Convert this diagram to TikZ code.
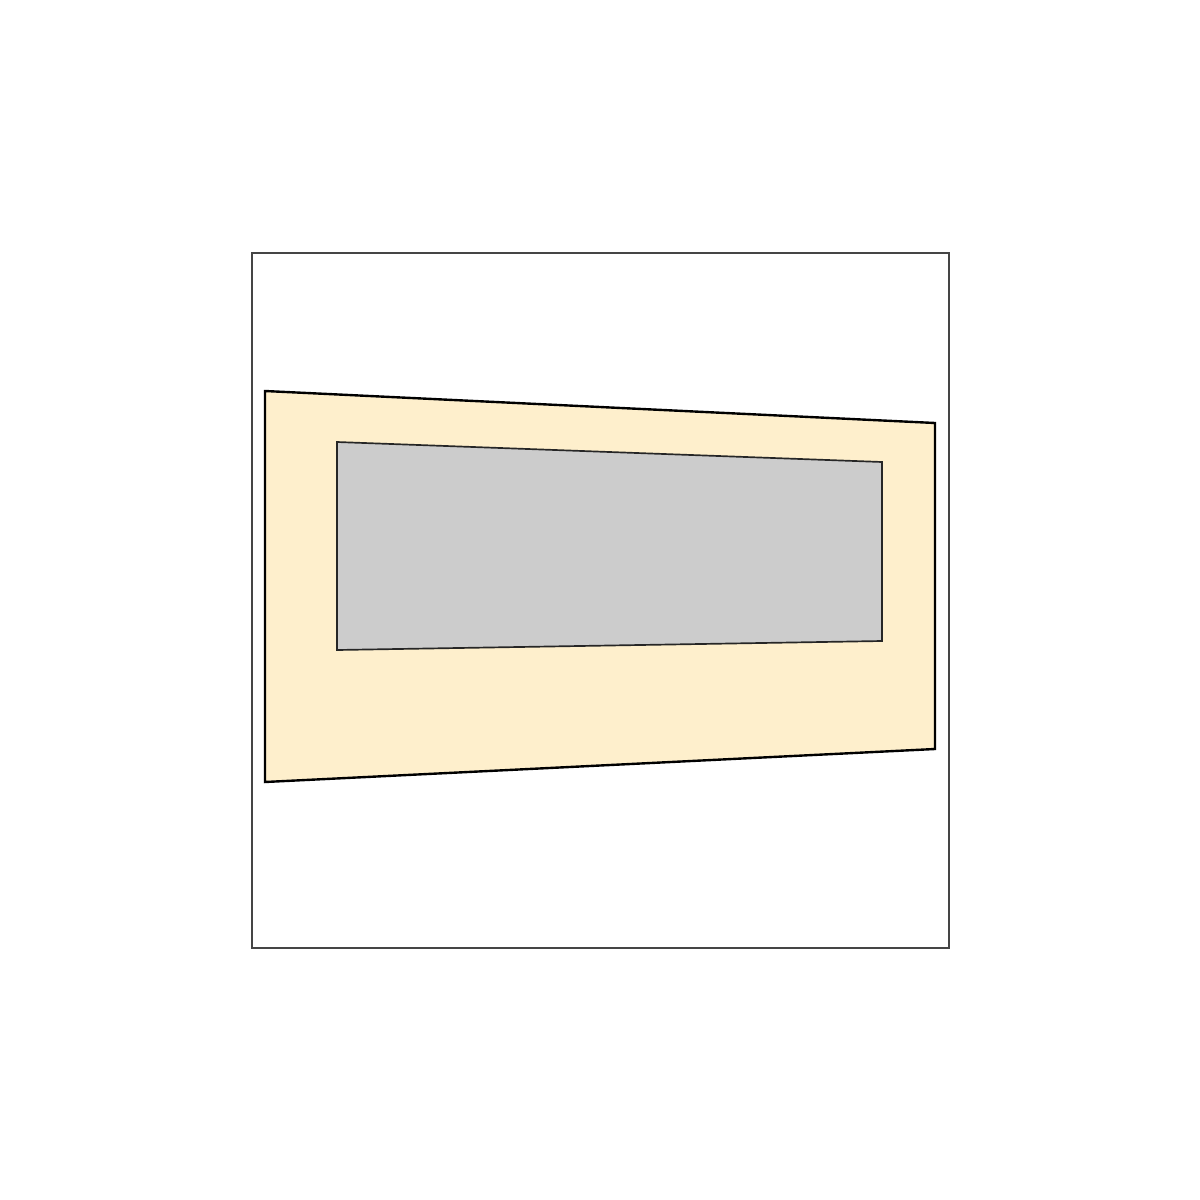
\documentclass[tikz,border=0pt]{standalone}
\usepackage{tikz}

\definecolor{panelcream}{HTML}{FEEFCC}
\definecolor{windowgrey}{HTML}{CCCCCC}
\definecolor{framegrey}{HTML}{454545}

\tikzset{
  frame/.style={draw=framegrey,line width=2.8pt},
  panel/.style={draw=black,fill=panelcream,line width=3.4pt,line join=miter},
  window/.style={draw=black!85,fill=windowgrey,line width=2.4pt},
}

\begin{document}
\begin{tikzpicture}[x=0.05cm,y=-0.05cm]

\useasboundingbox (0,0) rectangle (1200,1200);

\draw[frame]  (252,253)  rectangle  (949,948);

\draw[panel]  (265,391)  --  (935,423)  --  (935,749)  --  (265,782)  --  cycle;

\draw[window]  (337,442)  --  (882,462)  --  (882,641)  --  (337,650)  --  cycle;

\end{tikzpicture}
\end{document}
